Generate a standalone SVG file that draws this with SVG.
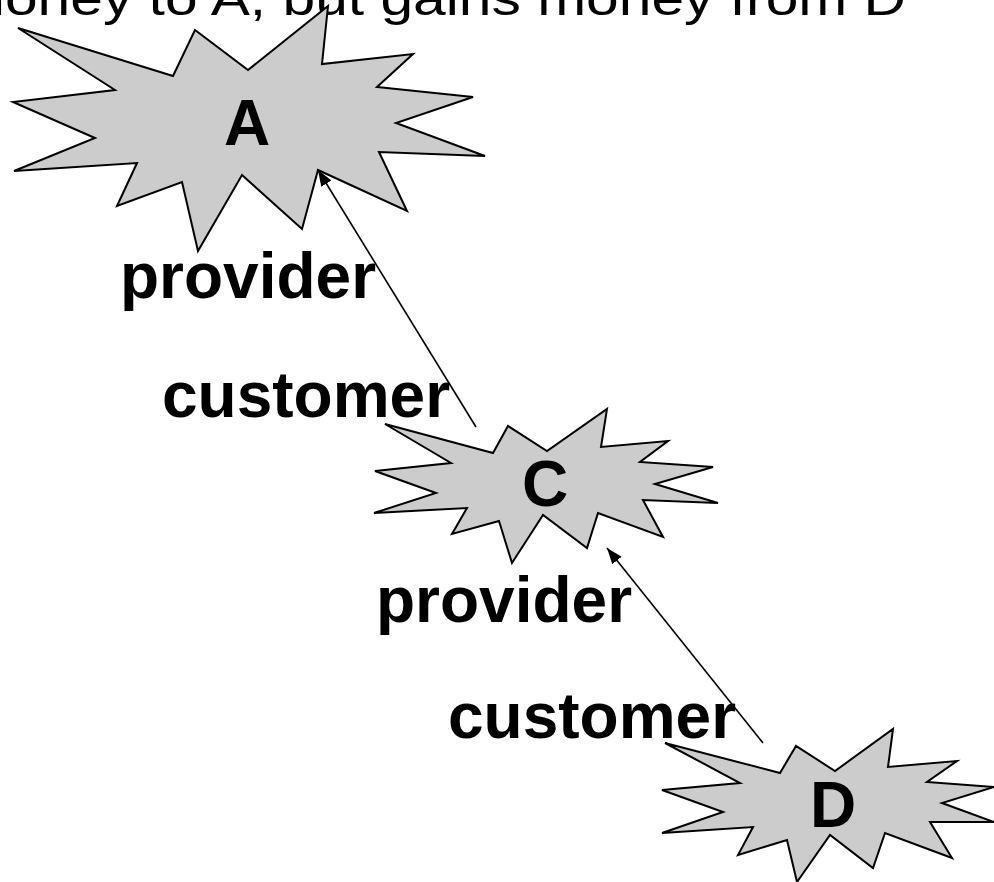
<svg xmlns="http://www.w3.org/2000/svg" width="994" height="882" viewBox="0 0 994 882">
<defs>
<style>
.star{fill:#cccccc;stroke:#000;stroke-width:2;stroke-linejoin:miter}
.lbl{font-family:"Liberation Sans",Arial,sans-serif;font-weight:bold;font-size:64px;fill:#000}
.title{font-family:"Liberation Sans",Arial,sans-serif;font-size:48px;fill:#000}
.conn{stroke:#000;stroke-width:1.6;fill:none}
</style>
<marker id="ah" markerUnits="userSpaceOnUse" markerWidth="18" markerHeight="14" refX="16" refY="7" orient="auto">
<path d="M0,1 L16,7 L0,13 Z" fill="#000"/>
</marker>
</defs>
<rect width="994" height="882" fill="#fff"/>
<text class="title" x="-44" y="15" textLength="950" lengthAdjust="spacingAndGlyphs">money to A, but gains money from D</text>
<g id="node-A">
<polygon class="star" points="18,28 173,76 195,30 248,70 328,6 322,64 413,54 377,87 473,97 396,123 485,156 379,152 407,211 318,170 302,229 242,175 198,251 182,182 117,206 137,163 14,171 95,138 13,102 115,90"/>
<text class="lbl" x="247" y="145" text-anchor="middle">A</text>
</g>
<g id="node-C">
<polygon class="star" points="385,424 493,453 508,426 547,451 607,409 601,447 668,441 640,462 713,467 655,484 718,503 643,500 663,537 598,513 587,548 543,515 512,563 499,521 452,534 467,508 374,513 436,493 375,471 451,463"/>
<text class="lbl" x="545" y="506" text-anchor="middle">C</text>
</g>
<g id="node-D">
<polygon class="star" points="665,743 780,773 796,746 835,771 893,729 888,767 957,761 927,782 994,787 942,803 994,822 930,822 952,858 885,833 873,868 830,835 797,882 787,840 738,855 753,827 662,833 723,812 662,790 740,783"/>
<text class="lbl" x="833" y="827" text-anchor="middle">D</text>
</g>
<g id="connectors">
<line class="conn" x1="476" y1="427" x2="318" y2="170" marker-end="url(#ah)"/>
<line class="conn" x1="763" y1="743" x2="607" y2="548" marker-end="url(#ah)"/>
</g>
<g id="labels">
<text class="lbl" x="120" y="298">provider</text>
<text class="lbl" x="162" y="417">customer</text>
<text class="lbl" x="376" y="622">provider</text>
<text class="lbl" x="448" y="738">customer</text>
</g>
</svg>
